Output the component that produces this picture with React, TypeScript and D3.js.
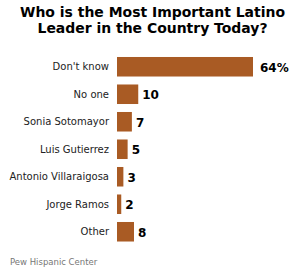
import React from "react";
import * as d3 from "d3";

const categories = ["Don't know", "No one", "Sonia Sotomayor", "Luis Gutierrez", "Antonio Villaraigosa", "Jorge Ramos", "Other"];
const values = [64, 10, 7, 5, 3, 2, 8];
const valueLabels = ["64%", "10", "7", "5", "3", "2", "8"];
const titleLines = ["Who is the Most Important Latino", "Leader in the Country Today?"];
const titleWidths = [265, 230];
const source = "Pew Hispanic Center";

const W = 292;
const H = 274;
const BAR = "#A95B24";
const FONT = "Verdana, 'DejaVu Sans', sans-serif";

export default function App() {
  const x = d3.scaleLinear().domain([0, 64]).range([117, 253]);
  const y = d3
    .scaleBand<string>()
    .domain(categories)
    .range([53, 245.5])
    .paddingInner(0.29)
    .paddingOuter(0.145);

  return (
    <svg
      width={W}
      height={H}
      style={{ position: "absolute", left: 0, top: 0, background: "#fff" }}
      fontFamily={FONT}
    >
      {titleLines.map((t, i) => (
        <text
          key={t}
          x={152.5}
          y={17 + i * 16}
          textAnchor="middle"
          fontWeight="bold"
          fontSize={14}
          textLength={titleWidths[i]}
          lengthAdjust="spacingAndGlyphs"
          fill="#000"
        >
          {t}
        </text>
      ))}
      {categories.map((c, i) => {
        const yy = y(c)!;
        const cy = yy + y.bandwidth() / 2;
        return (
          <g key={c}>
            <text x={109} y={cy} dy="0.35em" textAnchor="end" fontSize={10} fill="#222">
              {c}
            </text>
            <rect x={x(0)} y={yy} width={x(values[i]) - x(0)} height={y.bandwidth()} fill={BAR} />
            <text
              x={x(values[i]) + (i === 0 ? 7 : 4)}
              y={cy + 1}
              dy="0.35em"
              fontWeight="bold"
              fontSize={12}
              fill="#000"
            >
              {valueLabels[i]}
            </text>
          </g>
        );
      })}
      <text x={10} y={265} fontSize={8.5} fill="#777">
        {source}
      </text>
    </svg>
  );
}
